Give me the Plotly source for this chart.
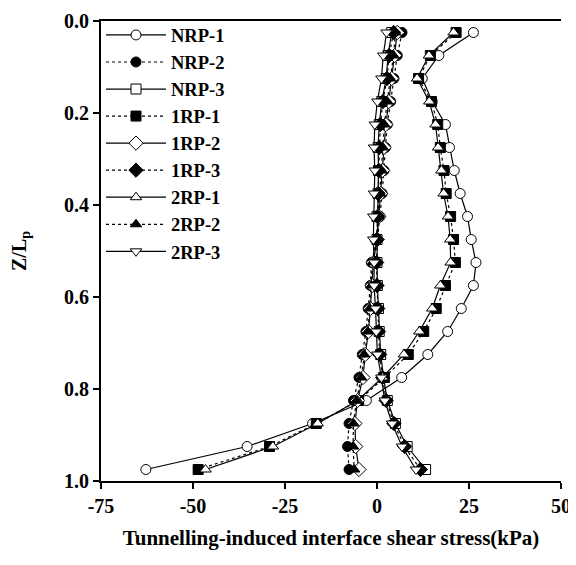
import plotly.graph_objects as go

z = [0.025, 0.075, 0.125, 0.175, 0.225, 0.275, 0.325, 0.375, 0.425, 0.475,
     0.525, 0.575, 0.625, 0.675, 0.725, 0.775, 0.825, 0.875, 0.925, 0.975]

nrp1 = [26.2, 16.8, 12.3, 15.0, 18.6, 19.7, 21.0, 22.6, 24.6, 25.6,
        26.9, 26.2, 22.9, 19.2, 13.8, 6.7, -2.9, -17.5, -35.3, -62.8]
nrp2 = [6.8, 5.5, 4.6, 3.7, 2.8, 2.3, 1.9, 1.4, 0.8, 0.1,
        -1.5, -1.8, -2.4, -3.0, -4.0, -4.9, -6.4, -7.6, -8.0, -7.6]
nrp3 = [4.0, 3.0, 2.5, 1.3, 0.6, 0.3, 0.4, 0.3, 0.0, 0.0,
        0.0, 0.1, 0.4, 0.6, 1.0, 1.8, 2.8, 5.0, 8.2, 13.2]
rp1_1 = [21.5, 14.5, 11.3, 14.8, 16.5, 17.2, 18.2, 18.8, 20.0, 20.8,
         21.3, 18.6, 16.1, 12.7, 8.5, 2.0, -5.0, -16.5, -29.2, -48.6]
rp1_2 = [5.5, 4.8, 4.0, 3.2, 2.4, 1.9, 1.5, 1.0, 0.5, 0.0,
         -1.0, -1.3, -1.8, -2.3, -3.2, -3.8, -5.3, -6.0, -5.8, -4.9]
rp1_3 = [4.5, 3.3, 2.7, 1.6, 0.9, 0.6, 0.5, 0.3, 0.1, 0.0,
         -0.1, 0.0, 0.2, 0.4, 0.7, 1.5, 2.5, 4.6, 7.5, 11.8]
rp2_1 = [20.8, 14.1, 10.9, 14.2, 15.9, 16.6, 17.5, 18.1, 19.3, 19.9,
         20.0, 17.2, 15.0, 11.5, 7.3, 1.5, -5.3, -16.1, -28.3, -46.6]
rp2_2 = [5.0, 4.5, 3.6, 2.8, 2.0, 1.6, 1.2, 0.8, 0.3, -0.2,
         -1.2, -1.5, -2.0, -2.5, -3.5, -4.3, -5.6, -6.4, -6.5, -6.2]
rp2_3 = [2.6, 1.7, 1.2, 0.1, -0.6, -0.8, -0.6, -0.8, -1.0, -1.0,
         -0.8, -0.8, -0.4, -0.2, 0.1, 1.2, 2.1, 4.1, 6.8, 10.6]

series = [
    ("NRP-1", nrp1, "circle", "white", "solid"),
    ("NRP-2", nrp2, "circle", "black", "dot"),
    ("NRP-3", nrp3, "square", "white", "solid"),
    ("1RP-1", rp1_1, "square", "black", "dot"),
    ("1RP-2", rp1_2, "diamond", "white", "solid"),
    ("1RP-3", rp1_3, "diamond", "black", "dot"),
    ("2RP-1", rp2_1, "triangle-up", "white", "solid"),
    ("2RP-2", rp2_2, "triangle-up", "black", "dot"),
    ("2RP-3", rp2_3, "triangle-down", "white", "solid"),
]

x_ticks = [-75, -50, -25, 0, 25, 50]
y_ticks = [0.0, 0.2, 0.4, 0.6, 0.8, 1.0]

fig = go.Figure()
for name, vals, sym, fill, dash in series:
    fig.add_trace(go.Scatter(
        x=vals, y=z, name="<b>" + name + "</b>", mode="lines+markers",
        line=dict(color="black", width=1.2, dash=dash),
        marker=dict(symbol=sym, size=10 if sym != "diamond" else 11, color=fill,
                    line=dict(color="black", width=1)),
    ))

FONT = "Liberation Serif, Times New Roman, serif"

fig.update_layout(
    width=568, height=557,
    margin=dict(l=93, r=15, t=8, b=84),
    paper_bgcolor="white", plot_bgcolor="white",
    font=dict(family=FONT, size=20, color="black"),
    showlegend=True,
    legend=dict(x=0.0, y=1.01, xanchor="left", yanchor="top",
                bgcolor="rgba(0,0,0,0)", borderwidth=0,
                font=dict(family=FONT, size=18.5, color="black"),
                tracegroupgap=0, itemwidth=60),
    xaxis=dict(range=[-75, 50], tickvals=x_ticks,
               ticktext=["<b>%d</b>" % v for v in x_ticks],
               showgrid=False, zeroline=False, showline=True, linecolor="black", linewidth=2,
               mirror=True, ticks="outside", ticklen=6, tickwidth=1.5, tickcolor="black",
               tickfont=dict(size=20), automargin=False, ticklabeloverflow="allow",
               title=dict(text="<b>Tunnelling-induced interface shear stress(kPa)</b>",
                          font=dict(size=21), standoff=14)),
    yaxis=dict(range=[1.0, 0.0], tickvals=y_ticks,
               ticktext=["<b>%.1f</b>" % v for v in y_ticks],
               showgrid=False, zeroline=False, showline=True, linecolor="black", linewidth=2,
               mirror=False, ticks="outside", ticklen=6, tickwidth=1.5, tickcolor="black",
               tickfont=dict(size=20), automargin=False, ticklabeloverflow="allow",
               title=dict(text="<b>Z/L<sub>p</sub></b>", font=dict(size=20), standoff=36)),
)

fig.write_html("out.html")
